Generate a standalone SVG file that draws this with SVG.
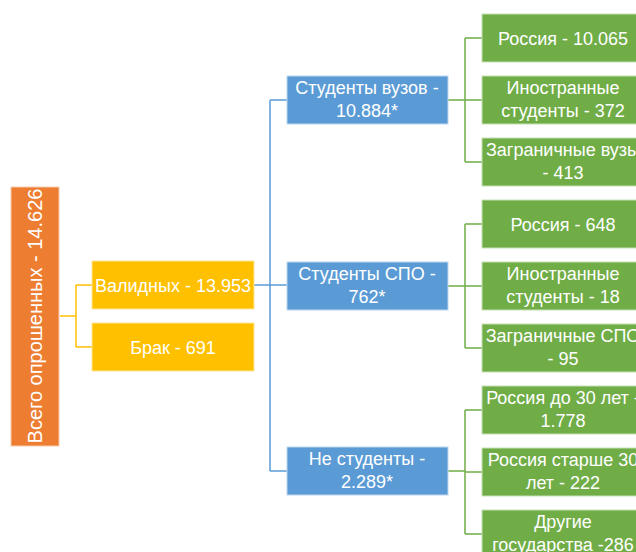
<svg xmlns="http://www.w3.org/2000/svg" width="636" height="552" viewBox="0 0 636 552">
<style>
.t{font-family:"Liberation Sans","Noto Sans",sans-serif;font-size:18px;fill:#fff;text-anchor:middle}
.o{fill:#ED7D31;stroke:#F8CBAD;stroke-width:1}
.y{fill:#FFC000;stroke:#FFE699;stroke-width:1}
.b{fill:#5B9BD5;stroke:#BDD7EE;stroke-width:1}
.g{fill:#70AD47;stroke:#C5E0B4;stroke-width:1}
.cy{fill:none;stroke:#FFC000;stroke-width:1.5}
.cb{fill:none;stroke:#5B9BD5;stroke-width:1.5}
.cg{fill:none;stroke:#70AD47;stroke-width:1.5}
</style>
<rect width="636" height="552" fill="#fff"/>
<g id="connectors">
<path class="cy" d="M60 316H76M76 285V347M76 285H92M76 347H92"/>
<path class="cb" d="M254 285H270M270 100V471M270 100H287M270 285H287M270 471H287"/>
<path class="cg" d="M448 100H465M465 38V162M465 38H482M465 100H482M465 162H482"/>
<path class="cg" d="M448 286H465M465 224V348M465 224H482M465 286H482M465 348H482"/>
<path class="cg" d="M448 471H465M465 410V534M465 410H482M465 472H482M465 534H482"/>
</g>
<g id="root"><rect class="o" x="11" y="187" width="48" height="259"/><text class="t" style="font-size:20px" transform="translate(42 316) rotate(-90)">Всего опрошенных - 14.626</text></g>
<g id="valid"><rect class="y" x="92" y="261" width="162" height="48"/><text class="t" x="173" y="292">Валидных - 13.953</text></g>
<g id="brak"><rect class="y" x="92" y="323" width="162" height="48"/><text class="t" x="173" y="354">Брак - 691</text></g>
<g id="vuz"><rect class="b" x="287" y="76" width="161" height="48"/><text class="t" x="367" y="94">Студенты вузов -</text><text class="t" x="367" y="117">10.884*</text></g>
<g id="spo"><rect class="b" x="287" y="262" width="161" height="48"/><text class="t" x="367" y="280">Студенты СПО -</text><text class="t" x="367" y="303">762*</text></g>
<g id="nonstud"><rect class="b" x="287" y="447" width="161" height="48"/><text class="t" x="367" y="465">Не студенты -</text><text class="t" x="367" y="488">2.289*</text></g>
<g id="v1"><rect class="g" x="482" y="14" width="162" height="48"/><text class="t" x="563" y="45">Россия - 10.065</text></g>
<g id="v2"><rect class="g" x="482" y="76" width="162" height="48"/><text class="t" x="563" y="94">Иностранные</text><text class="t" x="563" y="117">студенты - 372</text></g>
<g id="v3"><rect class="g" x="482" y="138" width="162" height="48"/><text class="t" x="563" y="156">Заграничные вузы</text><text class="t" x="563" y="179">- 413</text></g>
<g id="s1"><rect class="g" x="482" y="200" width="162" height="48"/><text class="t" x="563" y="231">Россия - 648</text></g>
<g id="s2"><rect class="g" x="482" y="262" width="162" height="48"/><text class="t" x="563" y="280">Иностранные</text><text class="t" x="563" y="303">студенты - 18</text></g>
<g id="s3"><rect class="g" x="482" y="324" width="162" height="48"/><text class="t" x="563" y="342">Заграничные СПО</text><text class="t" x="563" y="365">- 95</text></g>
<g id="n1"><rect class="g" x="482" y="386" width="162" height="48"/><text class="t" x="563" y="404">Россия до 30 лет -</text><text class="t" x="563" y="427">1.778</text></g>
<g id="n2"><rect class="g" x="482" y="448" width="162" height="48"/><text class="t" x="563" y="466">Россия старше 30</text><text class="t" x="563" y="489">лет - 222</text></g>
<g id="n3"><rect class="g" x="482" y="510" width="162" height="48"/><text class="t" x="563" y="528">Другие</text><text class="t" x="563" y="551">государства -286</text></g>
</svg>
